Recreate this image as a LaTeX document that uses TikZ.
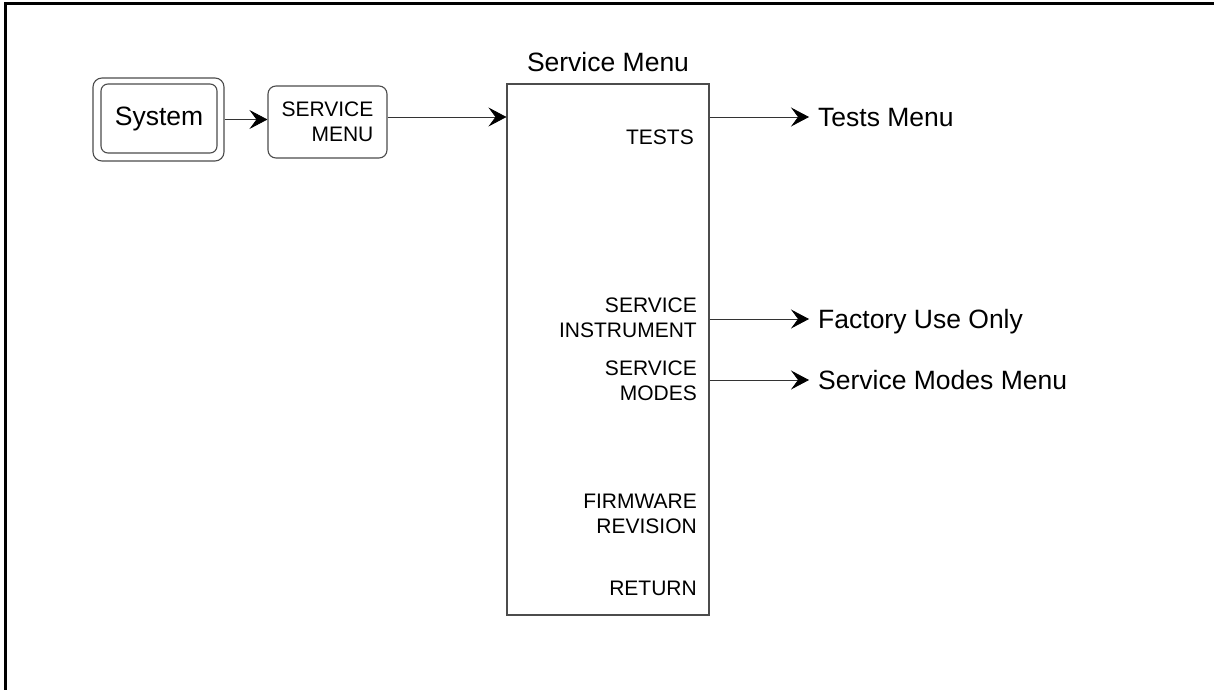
\documentclass[tikz,border=0pt]{standalone}
\usepackage{fontspec}
\setmainfont{Liberation Sans}
\usetikzlibrary{arrows.meta}
\begin{document}
\begin{tikzpicture}[x=1pt,y=-1pt,
  boxline/.style={draw=black!70,line width=1.1pt},
  big/.style={font=\fontsize{26.5}{30}\selectfont},
  small/.style={font=\fontsize{21}{25}\selectfont},
  lbl/.style={small,align=right,anchor=east,inner sep=0pt},
  dest/.style={big,anchor=base west,inner sep=0pt},
  arr/.style={draw=black!80,line width=0.9pt,-{Stealth[length=18pt,width=19pt,inset=7pt,line width=0.8pt,black]}}]
\useasboundingbox (0,0) rectangle (1214,690);
\draw[line width=3pt] (1214,4) -- (5,4) -- (5,690);
% System key
\node[boxline,rounded corners=9pt,minimum width=131pt,minimum height=83pt,inner sep=0pt] (sysout) at (158.5,119.5) {};
\node[boxline,rounded corners=7pt,minimum width=116pt,minimum height=69pt,big,inner sep=0pt] (sys) at (159,118.5) {System};
% SERVICE MENU softkey
\node[boxline,rounded corners=8pt,minimum width=119pt,minimum height=72pt,small,align=right,inner sep=0pt] (svc) at (327.5,122) {SERVICE\\MENU};
% Service menu box
\node[boxline,minimum width=202pt,minimum height=531pt,inner sep=0pt] (menu) at (608,349.5) {};
\node[big,inner sep=0pt] (title) at (608,62) {Service Menu};
\node[lbl] (tests) at (694,137) {TESTS};
\node[lbl] (sinst) at (697,318) {SERVICE\\INSTRUMENT};
\node[lbl] (smodes) at (697,381) {SERVICE\\MODES};
\node[lbl] (firm) at (697,514) {FIRMWARE\\REVISION};
\node[lbl] (ret) at (697,588) {RETURN};
% destinations
\node[dest] (testsmenu) at (818,126.5) {Tests Menu};
\node[dest] (factory) at (818,328.5) {Factory Use Only};
\node[dest] (smmenu) at (818,389.5) {Service Modes Menu};
% connectors
\draw[arr] (sysout.east) -- (svc.west |- sysout.east);
\draw[arr] ([yshift=5pt]svc.east) -- ([yshift=5pt]menu.west |- svc.east);
\draw[arr,shorten >=9pt] (menu.east |- 0,117) -- (testsmenu.west |- 0,117);
\draw[arr,shorten >=9pt] (menu.east |- 0,319) -- (factory.west |- 0,319);
\draw[arr,shorten >=9pt] (menu.east |- 0,380) -- (smmenu.west |- 0,380);
\end{tikzpicture}
\end{document}
